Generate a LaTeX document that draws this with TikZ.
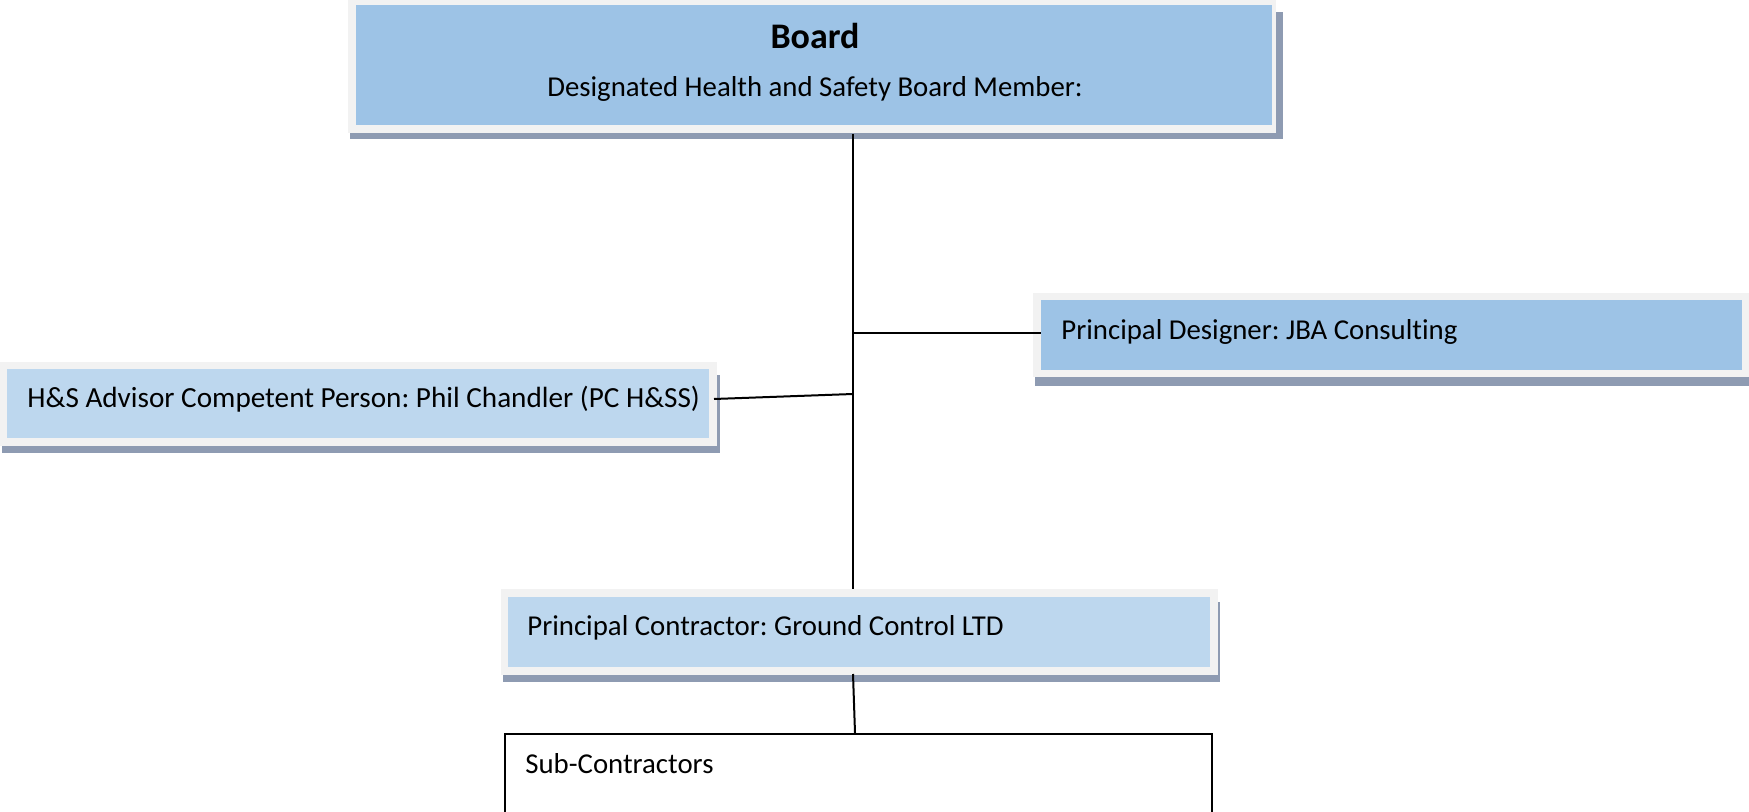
\documentclass[tikz,border=0pt]{standalone}
\usepackage{fontspec}
\setmainfont[Ligatures=NoCommon]{Carlito}
\frenchspacing
\definecolor{frameg}{HTML}{F2F2F2}
\definecolor{blueA}{HTML}{9DC3E6}
\definecolor{blueB}{HTML}{BDD7EE}
\definecolor{shad}{HTML}{8E9BB2}
\tikzset{
  boxframe/.style={rectangle, fill=frameg, inner sep=0pt, anchor=north west},
  boxshadow/.style={rectangle, fill=shad, inner sep=0pt, anchor=north west},
  boxfill/.style={rectangle, inner sep=0pt, anchor=north west},
  lbl/.style={inner sep=0pt, anchor=base west, font=\fontsize{14.4}{17}\selectfont},
  conn/.style={line width=1pt, black},
}
\begin{document}
\begin{tikzpicture}[x=0.5pt,y=-0.5pt]
\useasboundingbox (0,0) rectangle (1749,812);
\clip (0,0) rectangle (1749,812);
% Board
\node[boxshadow, minimum width=466.5pt, minimum height=63.5pt] (boardsh) at (350,12) {};
\node[boxframe, minimum width=464pt, minimum height=66.5pt] (board) at (348,0) {};
\node[boxfill, fill=blueA, minimum width=458pt, minimum height=60pt] (boardin) at (356,5) {};
\node[inner sep=0pt, anchor=base, font=\fontsize{18}{22}\bfseries] (boardt) at (815,49) {Board};
\node[inner sep=0pt, anchor=base, font=\fontsize{14.4}{17}\selectfont] (boardt2) at (815,97) {Designated Health and Safety Board Member:};
% Principal Designer
\node[boxshadow, minimum width=360pt, minimum height=40pt] (dessh) at (1035,306) {};
\node[boxframe, minimum width=358pt, minimum height=42pt] (des) at (1033,293) {};
\node[boxfill, fill=blueA, minimum width=350.5pt, minimum height=35pt] (desin) at (1041,300) {};
\node[lbl] (dest) at (1061,340) {Principal Designer: JBA Consulting};
% H&S Advisor
\node[boxshadow, minimum width=359pt, minimum height=39pt] (hssh) at (2,375) {};
\node[boxframe, minimum width=358.5pt, minimum height=42pt] (hs) at (0,362) {};
\node[boxfill, fill=blueB, minimum width=351pt, minimum height=34.5pt] (hsin) at (7,369) {};
\node[lbl, font=\fontsize{14.6}{17}\selectfont] (hst) at (27,408) {H\&S Advisor Competent Person: Phil Chandler (PC H\&SS)};
% Principal Contractor
\node[boxshadow, minimum width=358.5pt, minimum height=40pt] (pcsh) at (503,602) {};
\node[boxframe, minimum width=358.5pt, minimum height=43pt] (pc) at (501,589) {};
\node[boxfill, fill=blueB, minimum width=351pt, minimum height=35pt] (pcin) at (508,597) {};
\node[lbl] (pct) at (527,635) {Principal Contractor: Ground Control LTD};
% Sub-Contractors
\node[rectangle, draw=black, line width=1pt, inner sep=0pt, anchor=north west, minimum width=353.5pt, minimum height=45pt] (sub) at (504,733) {};
\node[lbl] (subt) at (525,773) {Sub-Contractors};
% connectors
\coordinate (jtop) at (853,134);
\coordinate (jdes) at (853,333);
\coordinate (jhs) at (853,394);
\coordinate (jbot) at (853,674);
\coordinate (hsend) at (714,399);
\coordinate (subtop) at (855,733);
\draw[conn] (jtop) -- (jtop |- pc.north);
\draw[conn] (jdes) -- (desin.west |- jdes);
\draw[conn] (jhs) -- (hsend);
\draw[conn] (jbot) -- (subtop);
\end{tikzpicture}
\end{document}
